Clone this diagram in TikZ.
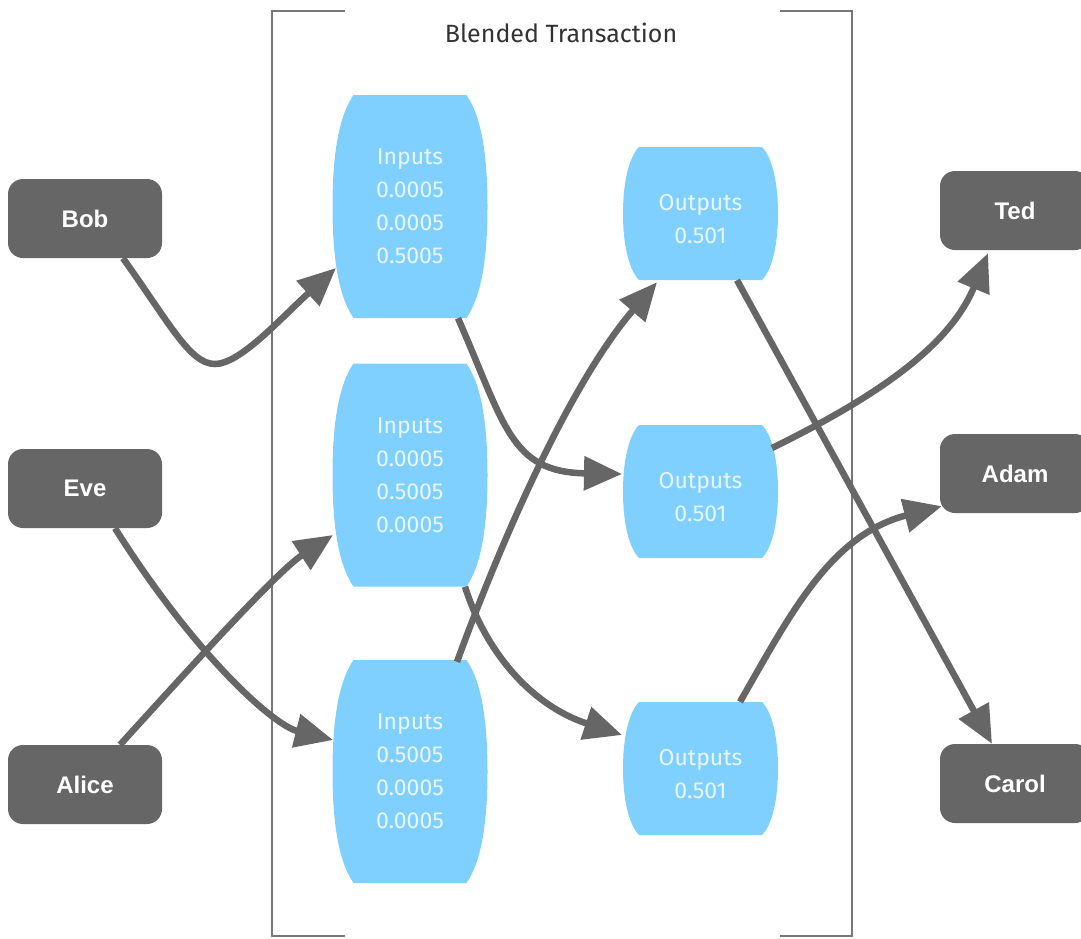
\documentclass[tikz,border=0pt]{standalone}
\usepackage{fontspec}
\setmainfont{Fira Sans}
\newfontfamily\namefont{Liberation Sans}
\usetikzlibrary{arrows.meta,calc}
\definecolor{nodegray}{HTML}{666666}
\definecolor{barrelblue}{HTML}{80D0FF}
\definecolor{edgegray}{HTML}{666666}
\definecolor{boxgray}{HTML}{777777}
\definecolor{titlegray}{HTML}{333333}
\definecolor{paletext}{HTML}{E8F6FF}
\begin{document}
\begin{tikzpicture}[x=1pt,y=-1pt,
  person/.style={rectangle, rounded corners=15pt, fill=nodegray, minimum width=154pt,
    minimum height=79pt, inner sep=0pt, text=white,
    font=\namefont\bfseries\fontsize{24}{28}\selectfont},
  barrel/.style n args={4}{rectangle, inner sep=0pt, minimum width=155pt,
    path picture={\fill[barrelblue]
      ($(path picture bounding box.north west)+(#1,0)$) --
      ($(path picture bounding box.north east)+(-#1,0)$) .. controls
      ($(path picture bounding box.north east)+(-#2,#3)$) and
      ($(path picture bounding box.north east)+(0,#4)$) ..
      (path picture bounding box.east) .. controls
      ($(path picture bounding box.south east)+(0,-#4)$) and
      ($(path picture bounding box.south east)+(-#2,-#3)$) ..
      ($(path picture bounding box.south east)+(-#1,0)$) --
      ($(path picture bounding box.south west)+(#1,0)$) .. controls
      ($(path picture bounding box.south west)+(#2,-#3)$) and
      ($(path picture bounding box.south west)+(0,-#4)$) ..
      (path picture bounding box.west) .. controls
      ($(path picture bounding box.north west)+(0,#4)$) and
      ($(path picture bounding box.north west)+(#2,#3)$) ..
      ($(path picture bounding box.north west)+(#1,0)$) -- cycle;}},
  bluetext/.style={text=paletext, align=center, font=\fontsize{23}{33}\selectfont},
  inbarrel/.style={barrel={21}{5}{23}{65}, minimum height=223pt, bluetext},
  outbarrel/.style={barrel={16}{6}{10}{35}, minimum height=133pt},
  flow/.style={draw=edgegray, line width=6.5pt, -{Triangle[length=38pt,width=33pt]}},
  bracketline/.style={draw=boxgray, line width=2pt}
]
\useasboundingbox[fill=white] (0,0) rectangle (1081,938);

% container bracket
\draw[bracketline] (345,11) -- (272,11) -- (272,936) -- (345,936);
\draw[bracketline] (780,11) -- (852,11) -- (852,936) -- (780,936);
\node[text=titlegray, font=\fontsize{25}{29}\selectfont] (title) at (561,33) {Blended Transaction};

% people
\node[person] (bob) at (85,218.5) {Bob};
\node[person] (eve) at (85,488.5) {Eve};
\node[person] (alice) at (85,784.5) {Alice};
\node[person, minimum width=150pt] (ted) at (1015,210.5) {Ted};
\node[person, minimum width=150pt] (adam) at (1015,473.5) {Adam};
\node[person, minimum width=150pt] (carol) at (1015,783.5) {Carol};

% inputs
\node[inbarrel] (in1) at (410,206.5) {Inputs\\0.0005\\0.0005\\0.5005};
\node[inbarrel] (in2) at (410,475) {Inputs\\0.0005\\0.5005\\0.0005};
\node[inbarrel] (in3) at (410,771.5) {Inputs\\0.5005\\0.0005\\0.0005};
% outputs (shape) and their texts
\node[outbarrel] (out1) at (700.5,213.5) {};
\node[outbarrel] (out2) at (700.5,491.5) {};
\node[outbarrel] (out3) at (700.5,768.5) {};
\node[bluetext] (out1t) at ($(out1.center)+(0,6)$) {Outputs\\0.501};
\node[bluetext] (out2t) at ($(out2.center)+(0,6)$) {Outputs\\0.501};
\node[bluetext] (out3t) at ($(out3.center)+(0,6)$) {Outputs\\0.501};

% connectors
\draw[flow] ($(bob.south)+(38,0)$) .. controls (170,324) and (190,364) .. (215,364)
  .. controls (240,364) and (280,319) .. ($(in1.center)+(-74,61.5)$);
\draw[flow] ($(eve.south)+(30,0)$) .. controls (195,655) and (273,725) .. ($(in3.center)+(-77,-31.5)$);
\draw[flow] ($(alice.north)+(35,0)$) .. controls (180,679) and (276,572) .. ($(in2.center)+(-77,60)$);
\draw[flow] ($(in1.south)+(48,0)$) .. controls (505,425) and (510,472) .. ($(out2.center)+(-78.5,-17.5)$);
\draw[flow] ($(in2.south)+(55,0)$) .. controls (485,650) and (530,705) .. ($(out3.center)+(-78.5,-33.5)$);
\draw[flow] ($(in3.north)+(47,2)$) .. controls (497,552) and (567,387) .. ($(out1.south)+(-43.5,2)$);
\draw[flow] ($(out1.south)+(36.5,0)$) -- ($(carol.north)+(-23,0)$);
\draw[flow] ($(out2.center)+(71.5,-43.5)$) .. controls (880,395) and (950,345) .. ($(ted.south)+(-27,3)$);
\draw[flow] ($(out3.north)+(39.5,0)$) .. controls (790,615) and (830,535) .. ($(adam.south west)+(2,-7)$);
\end{tikzpicture}
\end{document}
